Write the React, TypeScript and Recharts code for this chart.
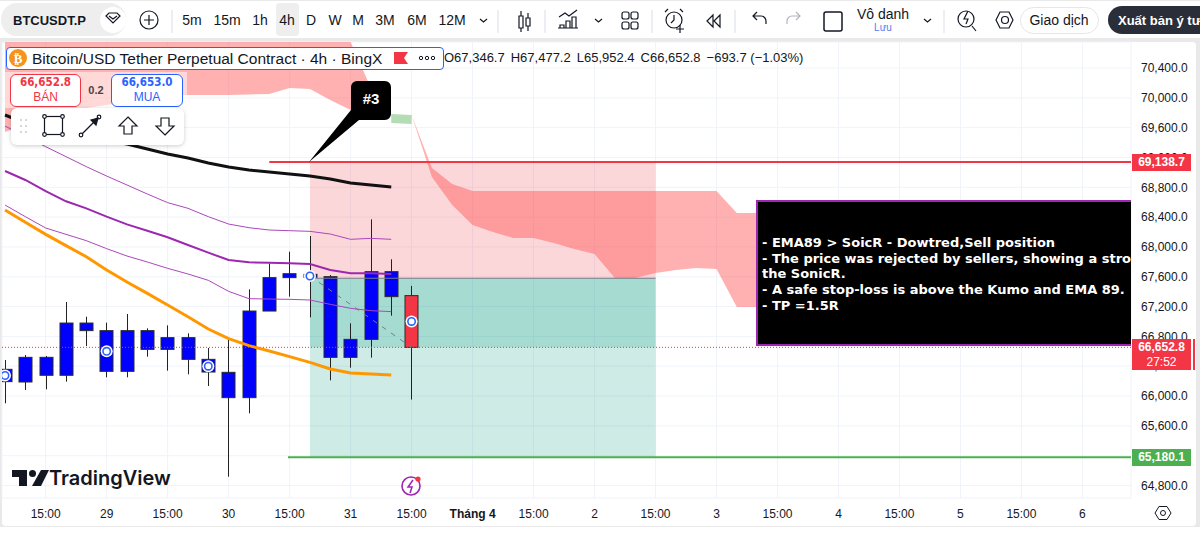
import React from 'react';
import {
  Area,
  Bar,
  CartesianGrid,
  ComposedChart,
  Line,
  ReferenceArea,
  ReferenceLine,
  XAxis,
  YAxis,
} from 'recharts';

// candles, one per 4h bar (bar index = array index)
const opens = [66193, 66188, 66278, 66278, 66877, 66331, 66331, 66626, 66626, 66492, 66322, 65978, 65978, 67140, 67588, 67592, 66519, 66519, 66760, 67333, 67346.7];
const closes = [66358, 66519, 66519, 66979, 66979, 66877, 66877, 66877, 66783, 66783, 66492, 66318, 67140, 67588, 67641, 67632, 67601, 66760, 67668, 67668, 66652.8];
const highs = [66483, 66550, 66537, 67261, 67064, 66984, 67100, 66908, 66948, 66841, 66644, 66760, 67431, 67780, 67936, 68147, 67623, 66975, 68370, 67834, 67477.2];
const lows = [65902, 66081, 66090, 66193, 66671, 66251, 66251, 66528, 66340, 66291, 66134, 64918, 65768, 67140, 67333, 67055, 66210, 66380, 66515, 67078, 65952.4];

// indicators
const ema89 = [69770, 69662, 69595, 69528, 69474, 69421, 69381, 69313, 69246, 69193, 69126, 69072, 69032, 69005, 68978, 68951, 68911, 68857, 68831, 68804];
const sonicHigh = [69622, 69479, 69345, 69211, 69077, 68951, 68831, 68710, 68594, 68518, 68406, 68307, 68258, 68227, 68218, 68209, 68173, 68102, 68115, 68102];
const sonicMid = [69018, 68898, 68750, 68612, 68518, 68406, 68303, 68218, 68129, 68026, 67923, 67825, 67793, 67789, 67780, 67771, 67690, 67646, 67646, 67637];
const sonicLow = [68562, 68406, 68254, 68169, 68084, 67977, 67878, 67798, 67713, 67637, 67552, 67404, 67306, 67301, 67297, 67288, 67230, 67176, 67145, 67132];
const orangeLine = [68495, 68330, 68169, 68017, 67869, 67690, 67529, 67377, 67221, 67064, 66899, 66769, 66676, 66604, 66528, 66452, 66362, 66309, 66295, 66282];

// kumo, the spans cross over around bars 19-20
const kumoRedTop = [71000, 71000, 71000, 71000, 71000, 71000, 71000, 71000, 71000, 71000, 71000, 71000, 71000, 71000, 71000, 71000, 71000, 70749, 70132, 69783, 69770, 69059, 68844, 68750, 68750, 68750, 68750, 68750, 68750, 68750, 68750, 68750, 68750, 68750, 68750, 68750, 68455, 68455, 68455];
const kumoRedBottom = [69541, 69635, 69729, 69810, 69863, 69904, 69944, 69984, 70024, 70038, 70038, 70038, 70045, 70051, 70132, 70118, 69971, 69837, 69743, 69783, 69770, 68938, 68562, 68294, 68200, 68120, 68120, 68053, 67972, 67905, 67583, 67583, 67650, 67690, 67717, 67704, 67194, 67194, 67194];
const kumoGreenIndex = [19, 20];
const kumoGreenTop = [69783, 69770];
const kumoGreenBottom = [69662, 69649];

// bars carrying the round marker, with the price it sits at
const markerIndex = [0, 5, 10, 15, 20];
const markerPrice = [66275, 66600, 66400, 67610, 67000];

const priceTicks = [64800, 65200, 65600, 66000, 66400, 66800, 67200, 67600, 68000, 68400, 68800, 69200, 69600, 70000, 70400];
const timeTicks = [2, 5, 8, 11, 14, 17, 20, 23, 26, 29, 32, 35, 38, 41, 44, 47, 50, 53];
const timeLabels = ['15:00', '29', '15:00', '30', '15:00', '31', '15:00', 'Tháng 4', '15:00', '2', '15:00', '3', '15:00', '4', '15:00', '5', '15:00', '6'];

const timeframes = ['5m', '15m', '1h', '4h', 'D', 'W', 'M', '3M', '6M', '12M'];
const timeframeX = [192, 227, 260, 287, 311, 335, 358, 385, 417, 452];
const noteLines = [
  '- EMA89 > SoicR - Dowtred,Sell position',
  '- The price was rejected by sellers, showing a strong rejection at',
  'the SonicR.',
  '- A safe stop-loss is above the Kumo and EMA 89.',
  '- TP =1.5R',
];
const ohlcText = ['O67,346.7', 'H67,477.2', 'L65,952.4', 'C66,652.8', '−693.7 (−1.03%)'];

const stopPrice = 69138.7;
const entryPrice = 67580;
const lastPrice = 66652.8;
const targetPrice = 65180.1;

const rows = kumoRedTop.map((top, i) => {
  const g = kumoGreenIndex.indexOf(i);
  const m = markerIndex.indexOf(i);
  return {
    i,
    open: opens[i],
    close: closes[i],
    high: highs[i],
    low: lows[i],
    ema89: ema89[i] ?? null,
    sonicHigh: sonicHigh[i] ?? null,
    sonicMid: sonicMid[i] ?? null,
    sonicLow: sonicLow[i] ?? null,
    orange: orangeLine[i] ?? null,
    kumoRed: [kumoRedBottom[i], top],
    kumoGreen: g >= 0 ? [kumoGreenBottom[g], kumoGreenTop[g]] : null,
    marker: m >= 0 ? markerPrice[m] : null,
  };
});

const FONT = '"Liberation Sans", Arial, sans-serif';
const RED = '#f23645';
const GREEN = '#4caf50';
const INK = '#131722';

function Candle(props: any) {
  const { x, y, width, height, payload } = props;
  if (payload.high == null || !height) return null;
  const k = height / (payload.high - payload.low);
  const top = y + (payload.high - Math.max(payload.open, payload.close)) * k;
  const bottom = y + (payload.high - Math.min(payload.open, payload.close)) * k;
  const cx = Math.round(x + width / 2) + 0.5;
  const up = payload.close >= payload.open;
  return (
    <g>
      <line x1={cx} x2={cx} y1={y} y2={y + height} stroke="#222" strokeWidth={1} />
      <rect
        x={cx - 6.5}
        y={top}
        width={13}
        height={Math.max(bottom - top, 1)}
        fill={up ? '#0000ff' : RED}
        stroke="#2a2a2a"
        strokeWidth={1}
      />
    </g>
  );
}

function MarkerDot(props: any) {
  const { cx, cy, index } = props;
  if (cy == null || rows[index]?.marker == null) return <g key={index} />;
  return (
    <g key={index}>
      <circle cx={cx} cy={cy} r={6} fill="#fff" />
      <circle cx={cx} cy={cy} r={3.7} fill="#fff" stroke="#2962ff" strokeWidth={1.6} />
    </g>
  );
}

function TimeTick(props: any) {
  const { x, y, payload } = props;
  const label = timeLabels[timeTicks.indexOf(payload.value)];
  return (
    <text x={x} y={y} dy={4} textAnchor="middle" fontSize={12} fontFamily={FONT} fill={INK} fontWeight={label === 'Tháng 4' ? 700 : 400}>
      {label}
    </text>
  );
}

function At({ x, y, size = 14, color = INK, weight = 400, children, center = true, font = FONT }: any) {
  return (
    <div
      style={{
        position: 'absolute',
        left: x,
        top: y,
        transform: center ? 'translate(-50%, -50%)' : 'translateY(-50%)',
        fontSize: size,
        color,
        fontWeight: weight,
        fontFamily: font,
        whiteSpace: 'nowrap',
        lineHeight: 1,
      }}
    >
      {children}
    </div>
  );
}

function Box({ x, y, w, h, style }: any) {
  return <div style={{ position: 'absolute', left: x, top: y, width: w, height: h, boxSizing: 'border-box', ...style }} />;
}

function Toolbar() {
  return (
    <>
      <Box x={1} y={3} w={125} h={33} style={{ background: '#eeeeee', borderRadius: 16 }} />
      <At x={13} y={20} center={false} weight={700} size={13}>BTCUSDT.P</At>
      <Box x={100} y={7} w={26} h={26} style={{ background: '#fff', borderRadius: 13 }} />
      <Box x={276} y={3} w={23} h={33} style={{ background: '#eeeeee', borderRadius: 4 }} />
      {timeframes.map((t, i) => (
        <At key={t} x={timeframeX[i]} y={20} size={14}>{t}</At>
      ))}
      <At x={883} y={14} size={14}>Vô danh</At>
      <At x={883} y={28} size={10} color="#5b7cf0">Lưu</At>
      <Box x={1020} y={7} w={79} h={27} style={{ border: '1px solid #e6e6e6', borderRadius: 14 }} />
      <At x={1059} y={20} size={14}>Giao dịch</At>
      <Box x={1108} y={6} w={120} h={28} style={{ background: '#2a2e39', borderRadius: 14 }} />
      <At x={1118} y={20} center={false} size={13} color="#fff" weight={700}>Xuất bản ý tưởng</At>
      <svg width={1200} height={42} style={{ position: 'absolute', left: 0, top: 0 }} fill="none" stroke={INK} strokeWidth={1.2}>
        <path d="M106 16 l3 -3 h8 l3 3 l-7 7 z M109 16 l4 3 l4 -3" />
        <circle cx={149} cy={20} r={9} />
        <path d="M149 15 v10 M144 20 h10" />
        <path d="M480 19 l3.5 3 l3.5 -3 M595 19 l3.5 3 l3.5 -3 M924 19 l3.5 3 l3.5 -3" />
        <path d="M172 10 v23 M498 10 v23 M545 10 v23 M652 10 v23 M735 10 v23 M944 10 v23" stroke="#e0e3eb" />
        <path d="M519 16 h4 v12 h-4 z M521 11 v5 M521 28 v4 M526 18 h4 v8 h-4 z M528 13 v5 M528 26 v5" />
        <path d="M560 28 v-3 h4 v3 M566 28 v-7 h4 v7 M572 28 v-11 h4 v11 M558 28 h20 M559 17 l6 -4 l4 3 l8 -6" />
        <rect x={622} y={12} width={7} height={7} rx={2} />
        <rect x={631} y={12} width={7} height={7} rx={2} />
        <rect x={622} y={22} width={7} height={7} rx={2} />
        <rect x={631} y={22} width={7} height={7} rx={2} />
        <circle cx={674} cy={20} r={8} />
        <path d="M674 15 v5 l-3 3 M665 12 l3 -3 M683 12 l-3 -3 M680 25 v8 M676 29 h8" />
        <path d="M713 15 l-6 6 l6 6 z M720 15 l-6 6 l6 6 z" />
        <path d="M753 16 h8 a5 5 0 0 1 5 5 v3 M757 12 l-4 4 l4 4" />
        <path d="M800 16 h-8 a5 5 0 0 0 -5 5 v3 M796 12 l4 4 l-4 4" stroke="#b2b5be" />
        <rect x={824} y={12} width={18} height={19} rx={2} strokeWidth={1.5} />
        <circle cx={966} cy={19} r={8} />
        <path d="M972 26 l4 5 M968 11 l-4 8 h4 l-2 5" />
        <path d="M998 21 l4 -8 h9 l4 8 l-4 8 h-9 z" transform="translate(-2 -1)" />
        <circle cx={1005} cy={20} r={3.5} />
      </svg>
    </>
  );
}

function Legend() {
  return (
    <>
      <Box x={3} y={72} w={184} h={36} style={{ background: 'rgba(255,255,255,0.5)' }} />
      <Box x={6} y={47} w={438} h={23} style={{ background: '#fff', border: '1.5px solid #2962ff', borderRadius: 4 }} />
      <svg width={20} height={20} style={{ position: 'absolute', left: 8, top: 48 }}>
        <circle cx={10} cy={10} r={9} fill="#f7931a" />
        <text x={10} y={14.5} textAnchor="middle" fontSize={13} fontWeight={700} fill="#fff" fontFamily="DejaVu Sans">₿</text>
      </svg>
      <At x={32} y={58.5} center={false} size={15.5}>Bitcoin/USD Tether Perpetual Contract · 4h · BingX</At>
      <svg width={60} height={20} style={{ position: 'absolute', left: 392, top: 48 }}>
        <path d="M2 4 h14 l-4 6 l4 6 h-14 z" fill={RED} />
        <g fill="none" stroke={INK} strokeWidth={1}>
          <circle cx={29} cy={10} r={1.7} />
          <circle cx={35} cy={10} r={1.7} />
          <circle cx={41} cy={10} r={1.7} />
        </g>
      </svg>
      <div style={{ position: 'absolute', left: 444, top: 50, display: 'flex', gap: 6, fontSize: 13, fontFamily: FONT, color: INK, lineHeight: '16px', whiteSpace: 'nowrap' }}>
        {ohlcText.map((s) => <span key={s}>{s}</span>)}
      </div>
      <Box x={10} y={74} w={71} h={33} style={{ background: '#fff', border: `1px solid ${RED}`, borderRadius: 6 }} />
      <At x={45.5} y={83} size={11.5} weight={700} color={RED} font='"DejaVu Sans Condensed", "DejaVu Sans"'>66,652.8</At>
      <At x={45.5} y={97} size={12} color={RED}>BÁN</At>
      <At x={96} y={90} size={11} weight={700} color="#444">0.2</At>
      <Box x={111} y={74} w={72} h={33} style={{ background: '#fff', border: '1px solid #2962ff', borderRadius: 6 }} />
      <At x={147} y={83} size={11.5} weight={700} color="#2962ff" font='"DejaVu Sans Condensed", "DejaVu Sans"'>66,653.0</At>
      <At x={147} y={97} size={12} color="#2962ff">MUA</At>
      <Box x={11} y={108} w={173} h={37} style={{ background: '#fff', borderRadius: 6, boxShadow: '0 1px 4px rgba(0,0,0,0.2)' }} />
      <svg width={173} height={37} style={{ position: 'absolute', left: 11, top: 108 }} fill="none" stroke={INK} strokeWidth={1.2}>
        <g fill="#c8cad0" stroke="none">
          {[10, 15].map((x) => [12, 18, 24].map((y) => <circle key={`${x}-${y}`} cx={x} cy={y} r={1} />))}
        </g>
        <rect x={33.5} y={8.5} width={18} height={18} />
        <g fill="#fff">
          <circle cx={33.5} cy={8.5} r={1.8} />
          <circle cx={51.5} cy={8.5} r={1.8} />
          <circle cx={33.5} cy={26.5} r={1.8} />
          <circle cx={51.5} cy={26.5} r={1.8} />
          <circle cx={70} cy={27} r={1.8} />
          <circle cx={88} cy={9} r={1.8} />
        </g>
        <path d="M71 26 l16 -16" />
        <path d="M87 10 l-2 7 l-5 -5 z" fill={INK} />
        <path d="M117 9 l9 9 h-5 v8 h-8 v-8 h-5 z" />
        <path d="M154 27 l9 -9 h-5 v-8 h-8 v8 h-5 z" />
      </svg>
    </>
  );
}

function PriceTag({ y, h, label, sub, color }: any) {
  return (
    <div
      style={{
        position: 'absolute',
        left: 1132,
        top: y,
        width: 59,
        height: h,
        background: color,
        color: '#fff',
        fontFamily: FONT,
        fontSize: 12,
        fontWeight: 700,
        lineHeight: '15px',
        textAlign: 'center',
        paddingTop: 1,
        boxSizing: 'border-box',
      }}
    >
      {label}
      {sub ? <div style={{ fontWeight: 400 }}>{sub}</div> : null}
    </div>
  );
}

function Annotations() {
  return (
    <>
      <svg width={100} height={100} style={{ position: 'absolute', left: 300, top: 70 }}>
        <path d="M9 92 L51 40 V17 a6 6 0 0 1 6 -6 H85 a6 6 0 0 1 6 6 V44 a6 6 0 0 1 -6 6 H59 Z" fill="#000" />
        <text x={71} y={34} textAnchor="middle" fontSize={15} fontWeight={700} fill="#fff" fontFamily={FONT}>#3</text>
      </svg>
      <div
        style={{
          position: 'absolute',
          left: 756,
          top: 200,
          width: 375,
          height: 146,
          background: '#000',
          border: '2px solid #9c27b0',
          borderRight: 'none',
          boxSizing: 'border-box',
          overflow: 'hidden',
          color: '#fff',
          fontFamily: '"DejaVu Sans", sans-serif',
          fontWeight: 700,
          fontSize: 13,
          lineHeight: '15.7px',
          paddingTop: 33,
          paddingLeft: 4,
          whiteSpace: 'nowrap',
        }}
      >
        {noteLines.map((s) => <div key={s}>{s}</div>)}
      </div>
      <PriceTag y={154} h={17} label="69,138.7" color={RED} />
      <PriceTag y={339} h={31} label="66,652.8" sub="27:52" color={RED} />
      <PriceTag y={449} h={17} label="65,180.1" color={GREEN} />
      <Box x={1193} y={339} w={2} h={31} style={{ background: RED }} />
      <svg width={40} height={24} style={{ position: 'absolute', left: 12, top: 467 }}>
        <path d="M0 3 H15 V19 H7 V10 H0 Z M29 3 H37 L29 19 H20 Z" fill={INK} />
        <circle cx={20.5} cy={6.5} r={3.5} fill={INK} />
      </svg>
      <At x={49} y={478} center={false} size={20} weight={600} font="Inter">TradingView</At>
      <svg width={26} height={26} style={{ position: 'absolute', left: 398, top: 473 }} fill="none">
        <circle cx={13} cy={13} r={9} stroke="#9c27b0" strokeWidth={1.6} />
        <path d="M15 7 l-5 7 h4 l-2 6" stroke="#9c27b0" strokeWidth={1.5} />
        <circle cx={20} cy={6} r={2.6} fill={RED} />
      </svg>
      <svg width={20} height={20} style={{ position: 'absolute', left: 1153, top: 503 }} fill="none" stroke={INK} strokeWidth={1}>
        <path d="M6 3.5 h8 l4 6.5 l-4 6.5 h-8 l-4 -6.5 z" />
        <circle cx={10} cy={10} r={2.5} />
      </svg>
    </>
  );
}

export default function App() {
  return (
    <div style={{ position: 'absolute', left: 0, top: 0, width: 1200, height: 534, overflow: 'hidden', background: '#e9e9ea' }}>
      <Box x={0} y={1} w={1200} h={37} style={{ background: '#fff' }} />
      <Box x={2} y={42} w={1194} h={484} style={{ background: '#fff', borderRadius: 4 }} />
      <Box x={0} y={527} w={1200} h={7} style={{ background: '#fff' }} />
      <Toolbar />
      <div style={{ position: 'absolute', left: 0, top: 0 }}>
        <ComposedChart width={1200} height={526} data={rows} margin={{ top: 42, right: 4, bottom: 0, left: 2 }}>
          <CartesianGrid stroke="#f0f3fa" />
          <XAxis
            type="number"
            dataKey="i"
            domain={[-0.148, 55.39]}
            allowDataOverflow
            ticks={timeTicks}
            interval={0}
            height={28}
            axisLine={false}
            tickLine={false}
            tickMargin={10}
            tick={<TimeTick />}
          />
          <YAxis
            orientation="right"
            domain={[64632, 70749]}
            allowDataOverflow
            ticks={priceTicks}
            interval={0}
            width={65}
            axisLine={false}
            tickLine={false}
            tickMargin={4}
            tick={{ fill: INK, fontSize: 12, fontFamily: FONT }}
            tickFormatter={(v: number) => v.toLocaleString('en-US', { minimumFractionDigits: 1 })}
          />
          <ReferenceArea x1={15} x2={32} y1={entryPrice} y2={stopPrice} fill={RED} fillOpacity={0.2} stroke="none" />
          <ReferenceArea x1={15} x2={32} y1={targetPrice} y2={entryPrice} fill="#089981" fillOpacity={0.2} stroke="none" />
          <ReferenceArea x1={15} x2={32} y1={lastPrice} y2={entryPrice} fill="#089981" fillOpacity={0.2} stroke="none" />
          <ReferenceLine segment={[{ x: 15, y: entryPrice }, { x: 32, y: entryPrice }]} stroke="#787b86" />
          <Area dataKey="kumoRed" stroke="none" fill="#ff5252" fillOpacity={0.45} isAnimationActive={false} />
          <Area dataKey="kumoGreen" stroke="none" fill="#4caf50" fillOpacity={0.42} isAnimationActive={false} />
          <ReferenceLine y={lastPrice} stroke={RED} strokeDasharray="1 2" />
          <ReferenceLine segment={[{ x: 13, y: stopPrice }, { x: 55.39, y: stopPrice }]} stroke={RED} strokeWidth={2} />
          <ReferenceLine segment={[{ x: 13.92, y: targetPrice }, { x: 55.39, y: targetPrice }]} stroke={GREEN} strokeWidth={2} />
          <ReferenceLine segment={[{ x: 15, y: 67610 }, { x: 20, y: lastPrice }]} stroke="#787b86" strokeDasharray="5 6" />
          <Line dataKey="sonicHigh" stroke="#ab47bc" strokeWidth={1} dot={false} isAnimationActive={false} />
          <Line dataKey="sonicMid" stroke="#9c27b0" strokeWidth={2} dot={false} isAnimationActive={false} />
          <Line dataKey="sonicLow" stroke="#ab47bc" strokeWidth={1} dot={false} isAnimationActive={false} />
          <Line dataKey="orange" stroke="#ff9800" strokeWidth={3} dot={false} isAnimationActive={false} />
          <Line dataKey="ema89" stroke="#111" strokeWidth={3} dot={false} isAnimationActive={false} />
          <Bar
            dataKey={(r: any) => (r.high == null ? null : [r.low, r.high])}
            barSize={14}
            shape={<Candle />}
            isAnimationActive={false}
          />
          <Line dataKey="marker" stroke="none" dot={<MarkerDot />} activeDot={false} legendType="none" isAnimationActive={false} />
        </ComposedChart>
      </div>
      <Legend />
      <Annotations />
    </div>
  );
}
